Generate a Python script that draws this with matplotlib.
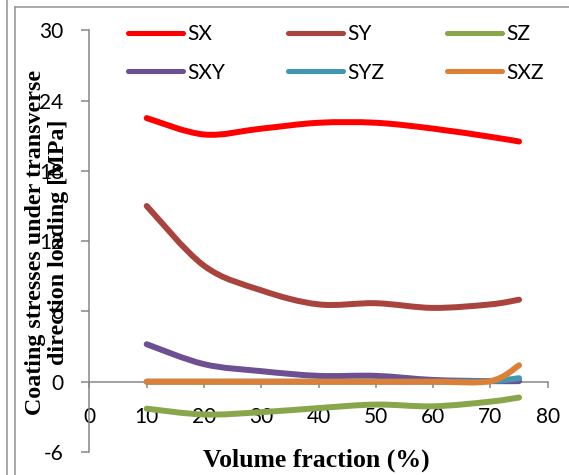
import numpy as np
import matplotlib
matplotlib.use('Agg')
import matplotlib.pyplot as plt
from matplotlib.path import Path
from matplotlib.patches import PathPatch
from matplotlib.lines import Line2D

plt.rcParams['axes.unicode_minus'] = False

# volume fraction (%) and coating stresses (MPa) for each component
volume_fraction = [10, 20, 30, 40, 50, 60, 70, 75]
sx = [22.5, 21.1, 21.6, 22.1, 22.1, 21.6, 20.9, 20.5]
sy = [15.0, 9.9, 7.8, 6.6, 6.7, 6.3, 6.6, 7.0]
sz = [-2.3, -2.8, -2.6, -2.25, -1.95, -2.1, -1.7, -1.35]
sxy = [3.2, 1.5, 0.9, 0.5, 0.5, 0.15, 0.05, 0.05]
syz = [0.0, 0.0, 0.0, 0.0, 0.0, 0.0, 0.05, 0.3]
sxz = [0.0, 0.0, 0.0, 0.0, 0.0, 0.0, 0.05, 1.4]

series_names = ['SX', 'SY', 'SZ', 'SXY', 'SYZ', 'SXZ']
series_values = [sx, sy, sz, sxy, syz, sxz]
series_colors = ['#FF0000', '#A9433E', '#89A64A', '#6D5092', '#4198B0', '#DD8037']

y_ticks = [-6, 0, 6, 12, 18, 24, 30]
x_ticks = [0, 10, 20, 30, 40, 50, 60, 70, 80]

LW = 4.3


def smooth_path(x, y):
    # cubic bezier through the points, like a spreadsheet "smoothed line"
    x = np.asarray(x, float)
    y = np.asarray(y, float)
    pts = np.column_stack([x, y])
    verts = [pts[0]]
    codes = [Path.MOVETO]
    n = len(pts)
    for i in range(n - 1):
        p0 = pts[i - 1] if i > 0 else pts[i]
        p1 = pts[i]
        p2 = pts[i + 1]
        p3 = pts[i + 2] if i + 2 < n else pts[i + 1]
        c1 = p1 + (p2 - p0) / 6.0
        c2 = p2 - (p3 - p1) / 6.0
        verts += [c1, c2, p2]
        codes += [Path.CURVE4] * 3
    return Path(verts, codes)


fig = plt.figure(figsize=(5.69, 4.75), dpi=100)
ax = fig.add_axes([0.1571, 0.0484, 0.8055, 0.888])

# curves sit above the axis line, as in the spreadsheet chart
for name, vals, col in zip(series_names, series_values, series_colors):
    patch = PathPatch(smooth_path(volume_fraction, vals), facecolor='none',
                      edgecolor=col, lw=LW, capstyle='round', joinstyle='round',
                      zorder=3)
    ax.add_patch(patch)

ax.set_xlim(0, 80)
ax.set_ylim(-6, 30)
ax.set_xticks(x_ticks)
ax.set_yticks(y_ticks)

ax.spines['top'].set_visible(False)
ax.spines['right'].set_visible(False)
ax.spines['bottom'].set_position(('data', 0))
for s in ('left', 'bottom'):
    ax.spines[s].set_color('#868686')
    ax.spines[s].set_linewidth(1.1)

ax.tick_params(axis='both', colors='#868686', width=1.1, labelcolor='black')
ax.tick_params(axis='y', length=5.5, pad=13)
ax.tick_params(axis='x', length=4.5, pad=14)
for lab in ax.get_xticklabels() + ax.get_yticklabels():
    lab.set_fontfamily('Lato')
    lab.set_fontsize(15)

# legend: two rows of three
handles = [Line2D([], [], color=c, lw=LW * 0.85, solid_capstyle='round') for c in series_colors]
order = [0, 3, 1, 4, 2, 5]
leg = fig.legend([handles[i] for i in order], [series_names[i] for i in order],
                 ncol=3, loc='upper left', bbox_to_anchor=(128 / 569, 1 - 24 / 475),
                 frameon=False, borderpad=0, borderaxespad=0,
                 handlelength=2.65, handletextpad=0.2, columnspacing=3.0,
                 labelspacing=0.9, prop={'family': 'Lato', 'size': 15})

# axis titles
fig.text(47 / 569, 1 - 242 / 475, 'Coating stresses under transverse\ndirection loading [MPa]',
         rotation=90, ha='center', va='center', multialignment='center',
         family='Liberation Serif', weight='bold', fontsize=17.3, linespacing=1.15)
fig.text(316 / 569, 1 - 460 / 475, 'Volume fraction (%)', ha='center', va='center',
         family='Liberation Serif', weight='bold', fontsize=18.5)

# frame lines around the chart area
fig.add_artist(Line2D([6.5 / 569, 6.5 / 569], [0, 1], color='#9a9a9a', lw=1.2))
fig.add_artist(Line2D([14.5 / 569, 14.5 / 569], [0, 1 - 7 / 475], color='#9a9a9a', lw=1.2))
fig.add_artist(Line2D([14.5 / 569, 1], [1 - 7 / 475, 1 - 7 / 475], color='#9a9a9a', lw=1.2))

fig.savefig('out.png', dpi=100)
